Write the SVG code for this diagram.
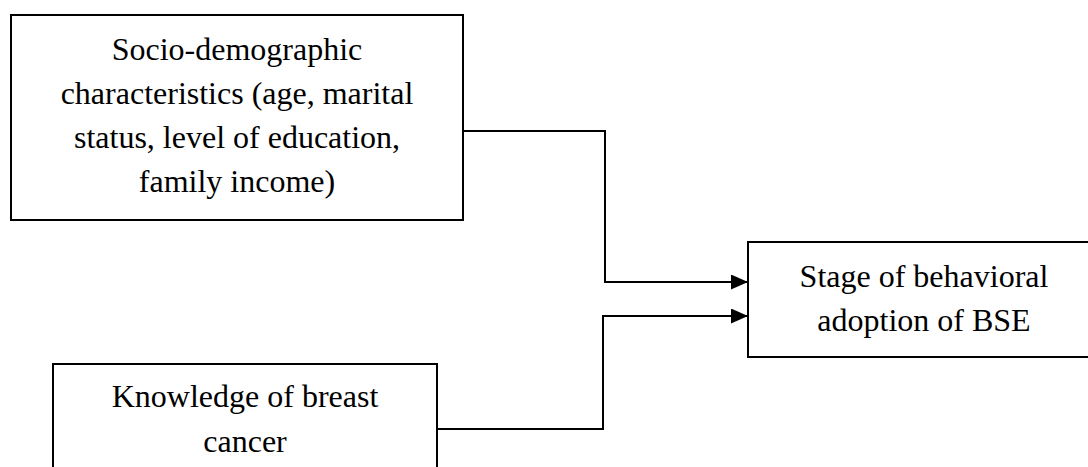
<svg xmlns="http://www.w3.org/2000/svg" width="1088" height="467" viewBox="0 0 1088 467">
<style>
.box{fill:#fff;stroke:#000;stroke-width:2}
.lbl{font-family:"Liberation Serif","Times New Roman",serif;font-size:32px;fill:#000;text-anchor:middle}
.conn{fill:none;stroke:#000;stroke-width:2}
</style>
<defs>
<marker id="arr" markerUnits="userSpaceOnUse" markerWidth="18" markerHeight="16" refX="17" refY="7.5" orient="auto">
<path d="M0,0 L17,7.5 L0,15 Z" fill="#000"/>
</marker>
</defs>
<g id="node-socio">
<rect class="box" x="11" y="15" width="452" height="205"/>
<text class="lbl" x="237" y="60">Socio-demographic</text>
<text class="lbl" x="237" y="104">characteristics (age, marital</text>
<text class="lbl" x="237" y="148">status, level of education,</text>
<text class="lbl" x="237" y="192">family income)</text>
</g>
<g id="node-knowledge">
<rect class="box" x="53" y="364" width="384" height="120"/>
<text class="lbl" x="245" y="407">Knowledge of breast</text>
<text class="lbl" x="245" y="452">cancer</text>
</g>
<g id="node-stage">
<rect class="box" x="748" y="242" width="360" height="115"/>
<text class="lbl" x="924" y="287">Stage of behavioral</text>
<text class="lbl" x="924" y="331">adoption of BSE</text>
</g>
<g id="connectors">
<polyline class="conn" points="463,131 605,131 605,282 748,282" marker-end="url(#arr)"/>
<polyline class="conn" points="437,429 603,429 603,316 748,316" marker-end="url(#arr)"/>
</g>
</svg>
